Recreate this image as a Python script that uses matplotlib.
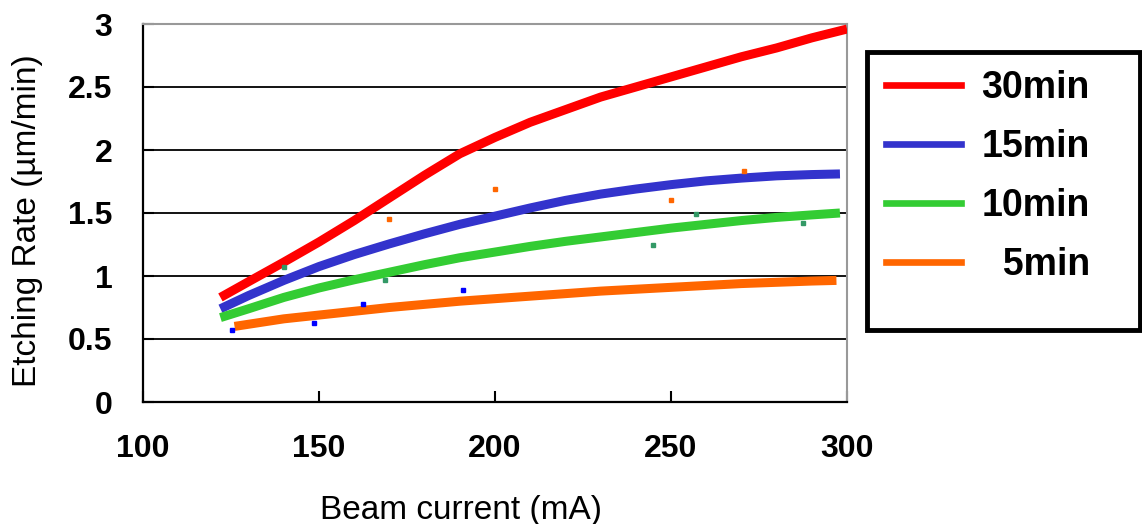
import matplotlib
matplotlib.use("Agg")
import matplotlib.pyplot as plt
from matplotlib.lines import Line2D
from matplotlib.patches import Rectangle

# ---- data ----
x_30 = [122, 130, 140, 150, 160, 170, 180, 190, 200, 210, 220, 230, 240, 250, 260, 270,
        280, 290, 300]
y_30 = [0.83, 0.955, 1.11, 1.27, 1.44, 1.62, 1.80, 1.97, 2.10, 2.22, 2.32, 2.42, 2.50,
        2.58, 2.66, 2.74, 2.81, 2.89, 2.96]

x_15 = [122, 130, 140, 150, 160, 170, 180, 190, 200, 210, 220, 230, 240, 250, 260, 270,
        280, 290, 298]
y_15 = [0.74, 0.845, 0.965, 1.075, 1.17, 1.255, 1.335, 1.41, 1.475, 1.54, 1.60, 1.65,
        1.69, 1.725, 1.755, 1.777, 1.795, 1.805, 1.81]

x_10 = [122, 130, 140, 150, 160, 170, 180, 190, 200, 210, 220, 230, 240, 250, 260, 270,
        280, 290, 298]
y_10 = [0.67, 0.74, 0.83, 0.905, 0.97, 1.03, 1.09, 1.145, 1.19, 1.235, 1.275, 1.31, 1.345,
        1.38, 1.41, 1.44, 1.465, 1.485, 1.50]

x_5 = [126, 140, 150, 160, 170, 180, 190, 200, 210, 220, 230, 240, 250, 260, 270, 280,
       290, 297]
y_5 = [0.60, 0.66, 0.69, 0.72, 0.75, 0.775, 0.80, 0.82, 0.84, 0.86, 0.88, 0.895, 0.91,
       0.925, 0.94, 0.95, 0.96, 0.965]

pts_blue_x = [125.3, 148.6, 162.5, 191]
pts_blue_y = [0.57, 0.63, 0.78, 0.89]
pts_teal_x = [140, 168.8, 245, 257, 287.5]
pts_teal_y = [1.07, 0.97, 1.25, 1.49, 1.42]
pts_orange_x = [170, 200, 250, 270.7]
pts_orange_y = [1.45, 1.69, 1.60, 1.83]

labels = ["30min", "15min", "10min", "  5min"]
colors = ["#FF0000", "#3333CC", "#33CC33", "#FF6600"]
x_ticks = [100, 150, 200, 250, 300]
y_ticks = [0, 0.5, 1, 1.5, 2, 2.5, 3]
y_tick_labels = ["0", "0.5", "1", "1.5", "2", "2.5", "3"]

# ---- figure ----
W, H = 1142, 524
fig = plt.figure(figsize=(W / 100, H / 100), dpi=100)
ax = fig.add_axes([143 / W, 1 - 402 / H, 704 / W, 378 / H])

ax.set_xlim(100, 300)
ax.set_ylim(0, 3)

for xs, ys, c in zip([x_30, x_15, x_10, x_5], [y_30, y_15, y_10, y_5], colors):
    ax.plot(xs, ys, color=c, lw=6.5, solid_capstyle="butt", solid_joinstyle="round", zorder=3)

ax.plot(pts_blue_x, pts_blue_y, ls="none", marker="s", ms=3.2, color="#0000FF", zorder=4)
ax.plot(pts_teal_x, pts_teal_y, ls="none", marker="s", ms=3.2, color="#339966", zorder=4)
ax.plot(pts_orange_x, pts_orange_y, ls="none", marker="s", ms=3.2, color="#FF6600", zorder=4)

ax.set_yticks(y_ticks)
ax.set_yticklabels(y_tick_labels)
ax.set_xticks(x_ticks)
ax.set_xticklabels([str(v) for v in x_ticks])
ax.yaxis.grid(True, color="black", lw=1.3, zorder=1)
ax.set_axisbelow(True)

ax.tick_params(axis="x", direction="in", length=8, width=1.5, pad=23,
               labelsize=23)
ax.tick_params(axis="y", direction="in", length=8, width=1.5, pad=22,
               labelsize=23)
for lab in ax.get_xticklabels() + ax.get_yticklabels():
    lab.set_fontfamily("Liberation Sans")
    lab.set_fontweight("bold")

for s in ["left", "bottom"]:
    ax.spines[s].set_color("black")
    ax.spines[s].set_linewidth(1.6)
for s in ["top", "right"]:
    ax.spines[s].set_color("#999999")
    ax.spines[s].set_linewidth(1.5)

ax.set_ylabel("Etching Rate (\u00b5m/min)", fontsize=24, family="Liberation Sans")
ax.yaxis.set_label_coords(-0.142, 0.481)
ax.set_xlabel("Beam current (mA)", fontsize=24, family="Liberation Sans")
ax.xaxis.set_label_coords(0.452, -0.245)

# ---- legend ----
fig.patches.append(Rectangle((867 / W, 1 - 330 / H), (W - 867 - 2) / W, 278 / H,
                             transform=fig.transFigure, facecolor="white",
                             edgecolor="black", lw=3.5, zorder=0))
handles = [Line2D([], [], color=c, lw=4.8) for c in colors]
leg = fig.legend(handles, labels, loc="upper left",
                 bbox_to_anchor=(886 / W, 1 - 70 / H), bbox_transform=fig.transFigure,
                 frameon=False, borderaxespad=0, borderpad=0,
                 handlelength=2.0, handletextpad=0.55, labelspacing=0.61,
                 prop={"family": "Liberation Sans", "weight": "bold", "size": 27})

fig.savefig("out.png", dpi=100)
